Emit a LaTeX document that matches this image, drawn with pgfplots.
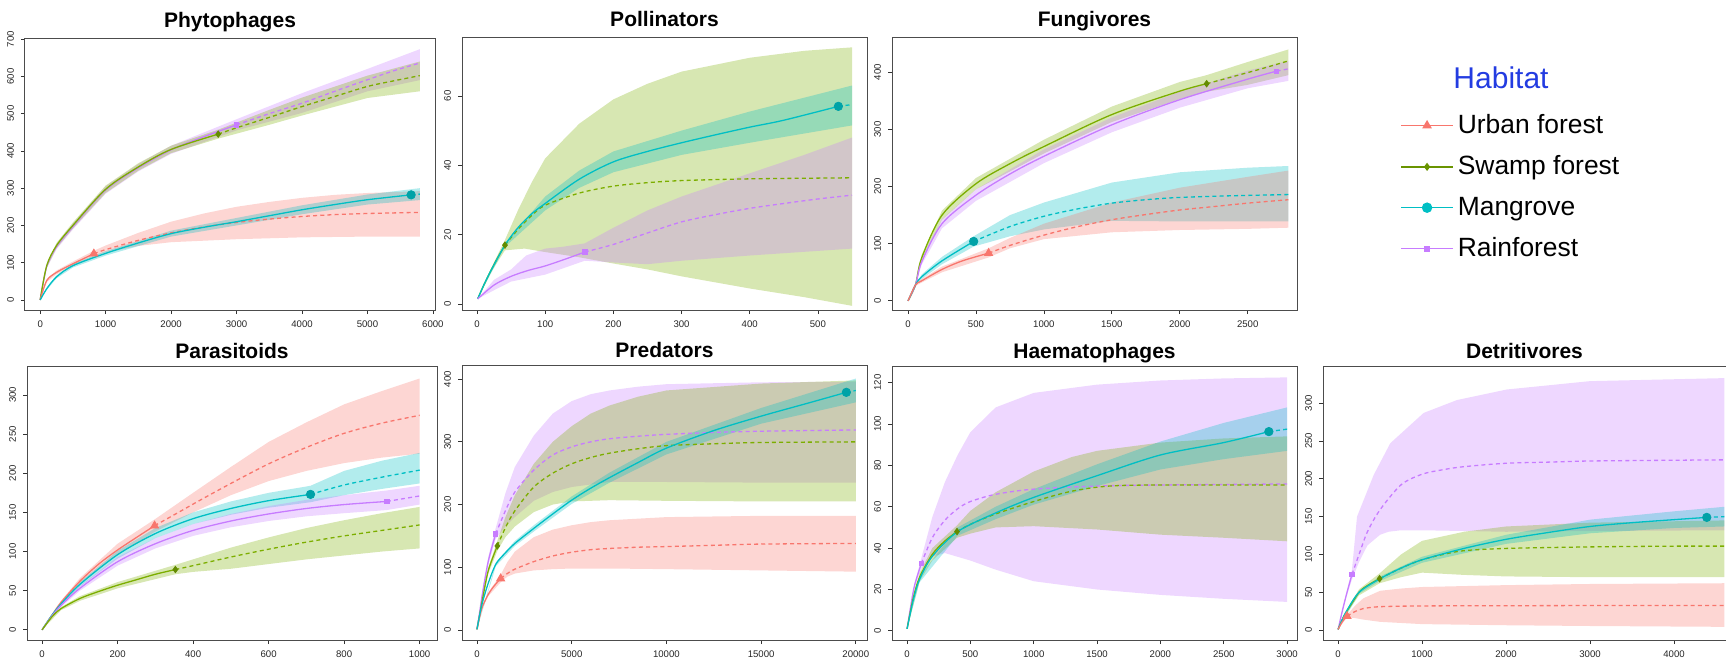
\documentclass[border=0pt]{standalone}
\usepackage{pgfplots}
\pgfplotsset{compat=1.18}
\usepackage{fontspec}
\setmainfont{Liberation Sans}
\definecolor{cU}{HTML}{F8766D}
\definecolor{cS}{HTML}{7CAE00}
\definecolor{cM}{HTML}{00BFC4}
\definecolor{cR}{HTML}{C77CFF}
\definecolor{hab}{RGB}{35,60,225}
\pgfplotsset{
 band/.style={draw=none, fill=#1, fill opacity=0.3, forget plot},
 sol/.style={draw=#1, line width=0.65pt, smooth, forget plot, no markers},
 ext/.style={draw=#1, line width=0.65pt, smooth, dash pattern=on 2pt off 1.6pt, forget plot, no markers},
 mkU/.style={only marks, mark=triangle*, mark size=2.3pt, color=cU, forget plot},
 mkS/.style={only marks, mark=diamond*, mark size=1.6pt, color=cS!80!black, forget plot},
 mkM/.style={only marks, mark=*, mark size=2.1pt, color=cM!85!black, forget plot},
 mkR/.style={only marks, mark=square*, mark size=1.1pt, color=cR, forget plot},
 panel/.style={
  scale only axis, anchor=south west,
  xtick pos=bottom, ytick pos=left, tick align=outside,
  major tick length=2pt,
  tick style={gray!40!black, line width=0.4pt},
  axis line style={gray!60!black, line width=0.5pt},
  ticklabel style={font=\fontsize{4.8}{6}\selectfont, text=gray!30!black},
  yticklabel style={rotate=90, anchor=south},
  scaled ticks=false,
  /pgf/number format/1000 sep={},
  /pgf/number format/assume math mode=true,
  every axis title/.style={at={(0.5,1)}, anchor=base, yshift=5.5pt, font=\bfseries\fontsize{10.5}{12}\selectfont},
 },
 low/.style={every axis title/.append style={yshift=-1.5pt}},
}
\begin{document}
\begin{tikzpicture}
\path[use as bounding box] (0,0) rectangle (863pt,330pt);

% ---------------- Phytophages
\begin{axis}[panel, at={(12.5pt,175pt)}, width=205pt, height=136pt,
 xmin=-232, xmax=6032, ymin=-27, ymax=703,
 xtick={0,1000,...,6000}, ytick={0,100,...,700}, title=Phytophages]
\addplot[band=cR] coordinates {(0,0)(100,95)(250,150)(500,205)(1000,305)(1500,365)(2000,414)(3000,485)(4000,555)(5000,620)(5800,673)
 (5800,590)(5000,560)(4000,502)(3000,455)(2000,392)(1500,345)(1000,285)(500,189)(250,136)(100,85)(0,0)};
\addplot[band=cS] coordinates {(0,0)(100,97)(250,153)(500,208)(1000,307)(1500,367)(2000,414)(2720,457)(3500,510)(4000,543)(5000,602)(5800,640)
 (5800,560)(5000,542)(4000,495)(3500,470)(2720,433)(2000,394)(1500,347)(1000,287)(500,192)(250,139)(100,87)(0,0)};
\addplot[band=cU] coordinates {(0,0)(100,56)(250,79)(500,103)(820,132)(1000,146)(1500,180)(2000,210)(2500,232)(3000,250)(3500,263)(4000,274)(4500,282)(5000,287)(5800,292)
 (5800,170)(5000,170)(4000,168)(3000,163)(2000,155)(1500,145)(1000,127)(820,117)(500,91)(250,69)(100,48)(0,0)};
\addplot[band=cM] coordinates {(0,0)(100,33)(250,66)(500,97)(1000,131)(2000,186)(3000,220)(4000,254)(5000,283)(5800,300)
 (5800,268)(5000,256)(4000,230)(3000,200)(2000,170)(1000,119)(500,87)(250,58)(100,27)(0,0)};
\addplot[sol=cR] coordinates {(0,0)(100,90)(250,143)(500,197)(1000,295)(1500,355)(2000,403)(2500,438)(3000,470)};
\addplot[ext=cR] coordinates {(3000,470)(3500,500)(4000,528)(4500,560)(5000,591)(5400,615)(5800,636)};
\addplot[sol=cS] coordinates {(0,0)(100,92)(250,146)(500,200)(1000,297)(1500,357)(2000,404)(2720,445)};
\addplot[ext=cS] coordinates {(2720,445)(3000,462)(3500,490)(4000,519)(4500,546)(5000,573)(5400,588)(5800,602)};
\addplot[sol=cU] coordinates {(0,0)(100,52)(250,74)(500,97)(820,124)};
\addplot[ext=cU] coordinates {(820,124)(1000,135)(1500,160)(2000,180)(2500,196)(3000,208)(3500,217)(4000,224)(4500,229)(5000,232)(5800,235)};
\addplot[sol=cM] coordinates {(0,0)(100,30)(250,62)(500,92)(1000,125)(1500,153)(2000,178)(2500,195)(3000,210)(3500,226)(4000,242)(4500,256)(5000,269)(5667,282)};
\addplot[ext=cM] coordinates {(5667,282)(5800,284)};
\addplot[mkR] coordinates {(3000,470)};
\addplot[mkS] coordinates {(2720,445)};
\addplot[mkU] coordinates {(820,124)};
\addplot[mkM] coordinates {(5667,282)};
\end{axis}

% ---------------- Pollinators
\begin{axis}[panel, at={(231pt,175pt)}, width=202.5pt, height=136pt,
 xmin=-22, xmax=572, ymin=-1.7, ymax=76.7,
 xtick={0,100,...,500}, ytick={0,20,40,60}, title=Pollinators]
\addplot[band=cS] coordinates {(1,1.5)(20,10)(41,18.5)(60,27)(80,35)(100,42)(150,52)(200,59)(250,63.5)(300,67)(400,71)(480,73)(550,74)
 (550,-0.5)(480,2)(400,4.5)(300,8)(250,10)(200,11.7)(150,13.5)(100,15)(70,16)(41,15.5)(20,9)(1,1.5)};
\addplot[band=cM] coordinates {(1,1.5)(41,17.5)(100,31)(150,38.5)(200,44)(300,50)(400,55.5)(550,63)
 (550,51.5)(400,46.5)(300,43)(200,38)(150,33.5)(100,27)(41,16.5)(1,1.5)};
\addplot[band=cR] coordinates {(1,1.5)(25,7)(50,10)(72,14)(100,16)(125,16.5)(158,17.5)(200,22)(250,27)(300,31)(400,37.7)(480,43)(550,48)
 (550,16)(400,14)(300,12.5)(250,11.5)(200,12)(158,12.5)(100,8.5)(50,6.5)(25,4)(1,1.5)};
\addplot[sol=cS] coordinates {(1,1.5)(10,5.5)(20,9.5)(30,13.3)(41,17)};
\addplot[ext=cS] coordinates {(41,17)(60,21.5)(80,25.5)(100,28.5)(150,32)(200,34)(250,35)(300,35.6)(400,36.1)(550,36.4)};
\addplot[sol=cM] coordinates {(1,1.5)(10,5.5)(20,9.5)(41,17)(60,22)(80,26)(100,29)(150,36)(200,41)(250,44)(300,46.5)(350,48.8)(400,51)(450,53)(530,57)};
\addplot[ext=cM] coordinates {(530,57)(550,57.5)};
\addplot[sol=cR] coordinates {(1,1.5)(25,5.5)(50,8)(75,9.7)(100,11)(130,13)(158,15)};
\addplot[ext=cR] coordinates {(158,15)(200,17.2)(250,20.5)(300,23.7)(350,25.8)(400,27.6)(450,29)(500,30.3)(550,31.4)};
\addplot[mkS] coordinates {(41,17)};
\addplot[mkM] coordinates {(530,57)};
\addplot[mkR] coordinates {(158,15)};
\end{axis}

% ---------------- Fungivores (with legend)
\begin{axis}[panel, at={(446pt,175pt)}, width=202.5pt, height=136pt,
 xmin=-118, xmax=2863, ymin=-16, ymax=460,
 xtick={0,500,...,2500}, ytick={0,100,...,400}, title=Fungivores,
 legend cell align=left,
 legend image code/.code={\draw[mark repeat=2,mark phase=2,#1] plot coordinates {(0pt,0pt)(13pt,0pt)(26pt,0pt)};},
 legend style={at={(1.254,0.735)}, anchor=north west, draw=none, fill=none,
   font=\fontsize{13.2}{15}\selectfont, row sep=5.6pt, inner sep=0pt,
   nodes={inner sep=2pt}}]
\addlegendimage{cU, line width=0.8pt, mark=triangle*, mark size=2pt}
\addlegendimage{cS!85!black, line width=0.8pt, mark=diamond*, mark size=1.4pt}
\addlegendimage{cM, line width=0.8pt, mark=*, mark size=2.2pt}
\addlegendimage{cR, line width=0.8pt, mark=square*, mark size=1.1pt}
\legend{Urban forest, Swamp forest, Mangrove, Rainforest}
\addplot[band=cS] coordinates {(0,0)(55,30)(100,80)(250,158)(500,215)(1000,282)(1500,340)(2000,383)(2198,395)(2500,418)(2800,440)
 (2800,395)(2500,378)(2198,366)(2000,353)(1500,313)(1000,258)(500,195)(250,142)(100,70)(55,26)(0,0)};
\addplot[band=cR] coordinates {(0,0)(55,30)(100,73)(250,143)(500,195)(1000,265)(1500,321)(2000,366)(2500,403)(2800,420)
 (2800,385)(2500,372)(2000,338)(1500,295)(1000,241)(500,175)(250,127)(100,63)(55,26)(0,0)};
\addplot[band=cM] coordinates {(0,0)(55,30)(100,46)(250,77)(483,113)(750,150)(1000,172)(1500,207)(2000,225)(2500,233)(2800,236)
 (2800,139)(2500,139)(2000,139)(1500,140)(1000,125)(750,113)(483,95)(250,64)(100,38)(55,26)(0,0)};
\addplot[band=cU] coordinates {(0,0)(55,30)(100,38)(250,60)(593,92)(750,110)(1000,135)(1500,172)(2000,198)(2500,217)(2800,228)
 (2800,128)(2500,126)(2000,124)(1500,120)(1000,108)(750,92)(593,76)(250,50)(100,32)(55,26)(0,0)};
\addplot[sol=cS] coordinates {(0,0)(55,28)(100,75)(250,150)(500,205)(750,240)(1000,270)(1500,326)(2000,367)(2198,380)};
\addplot[ext=cS] coordinates {(2198,380)(2400,393)(2600,406)(2800,420)};
\addplot[sol=cR] coordinates {(0,0)(55,28)(100,68)(250,135)(500,185)(750,222)(1000,253)(1500,308)(2000,352)(2500,388)(2713,402)};
\addplot[ext=cR] coordinates {(2713,402)(2800,406)};
\addplot[sol=cM] coordinates {(0,0)(55,28)(100,42)(250,70)(483,104)};
\addplot[ext=cM] coordinates {(483,104)(750,130)(1000,148)(1250,161)(1500,171)(1750,177)(2000,181)(2400,184)(2800,186)};
\addplot[sol=cU] coordinates {(0,0)(55,28)(100,35)(250,55)(400,70)(593,83.5)};
\addplot[ext=cU] coordinates {(593,83.5)(750,97)(1000,115)(1250,130)(1500,142)(1750,151)(2000,159)(2250,165)(2500,171)(2800,177)};
\addplot[mkS] coordinates {(2198,380)};
\addplot[mkR] coordinates {(2713,402)};
\addplot[mkM] coordinates {(483,104)};
\addplot[mkU] coordinates {(593,83.5)};
\end{axis}
\node[text=hab, font=\fontsize{15}{17}\selectfont] at (750.5pt,291pt) {Habitat};

% ---------------- Parasitoids
\begin{axis}[panel, low, at={(13.5pt,10pt)}, width=205pt, height=137pt,
 xmin=-40, xmax=1046, ymin=-13, ymax=337,
 xtick={0,200,...,1000}, ytick={0,50,...,300}, title=Parasitoids]
\addplot[band=cU] coordinates {(0,0)(50,37)(100,66)(200,110)(298,141)(400,175)(500,208)(600,240)(700,265)(800,288)(900,305)(1000,321)
 (1000,225)(900,220)(800,213)(700,203)(600,190)(500,172)(400,150)(298,125)(200,96)(100,58)(50,33)(0,0)};
\addplot[band=cM] coordinates {(0,0)(50,35)(100,61)(200,101)(300,130)(400,150)(500,164)(600,175)(711,184)(800,203)(900,216)(1000,226)
 (1000,187)(900,180)(800,172)(711,163)(600,156)(500,147)(400,135)(300,117)(200,91)(100,55)(50,31)(0,0)};
\addplot[band=cR] coordinates {(0,0)(50,33)(100,56)(200,93)(300,117)(400,135)(500,148)(600,158)(700,166)(800,172)(913,178)(1000,184)
 (1000,160)(913,153)(800,149)(700,145)(600,139)(500,131)(400,120)(300,104)(200,82)(100,50)(50,29)(0,0)};
\addplot[band=cS] coordinates {(0,0)(50,29)(100,43)(200,61)(353,83)(400,90)(500,105)(600,118)(700,130)(800,140)(900,149)(1000,157)
 (1000,104)(900,100)(800,95)(700,90)(600,84)(500,78)(400,74)(353,71)(200,53)(100,37)(50,25)(0,0)};
\addplot[sol=cU] coordinates {(0,0)(25,18)(50,35)(100,62)(150,84)(200,102)(250,118)(298,133)};
\addplot[ext=cU] coordinates {(298,133)(350,147)(420,166)(500,187)(600,212)(700,233)(800,251)(900,264)(1000,274)};
\addplot[sol=cM] coordinates {(0,0)(25,18)(50,33)(100,58)(200,96)(300,123)(400,142)(500,155)(600,165)(711,173)};
\addplot[ext=cM] coordinates {(711,173)(800,185)(900,195)(1000,204)};
\addplot[sol=cR] coordinates {(0,0)(25,17)(50,31)(100,53)(200,87)(300,110)(400,127)(500,139)(600,148)(700,155)(800,160)(913,164)};
\addplot[ext=cR] coordinates {(913,164)(1000,171)};
\addplot[sol=cS] coordinates {(0,0)(25,16)(50,27)(100,40)(150,49)(200,57)(250,64)(300,71)(353,77)};
\addplot[ext=cS] coordinates {(353,77)(400,82)(500,93)(600,103)(700,112)(800,120)(900,127)(1000,134)};
\addplot[mkU] coordinates {(298,133)};
\addplot[mkM] coordinates {(711,173)};
\addplot[mkR] coordinates {(913,164)};
\addplot[mkS] coordinates {(353,77)};
\end{axis}

% ---------------- Predators
\begin{axis}[panel, low, at={(231pt,10pt)}, width=202.5pt, height=137pt,
 xmin=-790, xmax=20590, ymin=-16, ymax=421,
 xtick={0,5000,...,20000}, ytick={0,100,...,400}, title=Predators]
\addplot[band=cR] coordinates {(0,1)(300,64)(600,117)(986,162)(1500,218)(2000,260)(3000,310)(4000,345)(5000,365)(6000,376)(7000,382)(8500,388)(10000,392)(15000,395)(20000,396)
 (20000,235)(15000,235)(10000,236)(7000,236)(5000,228)(4000,220)(3000,206)(2000,180)(1500,165)(986,145)(600,104)(300,56)(0,1)};
\addplot[band=cS] coordinates {(0,1)(300,53)(600,100)(1074,142)(1500,180)(2000,215)(3000,265)(4000,300)(5000,325)(6000,345)(7000,358)(8500,372)(10000,382)(15000,393)(20000,398)
 (20000,205)(15000,205)(10000,206)(7000,207)(5000,205)(4000,200)(3000,188)(2000,165)(1500,148)(1074,126)(600,90)(300,47)(0,1)};
\addplot[band=cU] coordinates {(0,1)(300,40)(600,60)(1250,88)(1600,108)(2000,125)(3000,148)(4000,160)(5000,167)(6000,172)(7000,175)(10000,180)(15000,182)(20000,182)
 (20000,93)(15000,95)(10000,97)(7000,98)(5000,98)(4000,97)(3000,95)(2000,90)(1600,85)(1250,76)(600,54)(300,36)(0,1)};
\addplot[band=cM] coordinates {(0,1)(1000,108)(2000,142)(3000,167)(5000,213)(7000,251)(10000,300)(15000,354)(20000,401)
 (20000,363)(15000,329)(10000,280)(7000,235)(5000,201)(3000,157)(2000,134)(1000,102)(0,1)};
\addplot[sol=cR] coordinates {(0,1)(150,30)(300,60)(600,110)(986,153)};
\addplot[ext=cR] coordinates {(986,153)(1500,190)(2000,220)(3000,255)(4000,279)(5000,292)(6000,300)(7000,305)(8500,309)(10000,312)(12500,315)(15000,317)(20000,319)};
\addplot[sol=cS] coordinates {(0,1)(150,25)(300,50)(600,95)(1074,134)};
\addplot[ext=cS] coordinates {(1074,134)(1500,163)(2000,190)(3000,228)(4000,250)(5000,265)(6000,275)(7000,282)(8500,289)(10000,294)(12500,297)(15000,299)(20000,300)};
\addplot[sol=cU] coordinates {(0,1)(150,22)(300,38)(600,57)(900,70)(1250,82)};
\addplot[ext=cU] coordinates {(1250,82)(1600,90)(2000,97)(3000,109)(4000,118)(5000,124)(6000,128)(7000,130)(8500,132)(10000,133)(12500,135)(15000,137)(20000,138)};
\addplot[sol=cM] coordinates {(0,1)(150,25)(300,45)(600,75)(1000,105)(1500,123)(2000,138)(3000,162)(4000,185)(5000,207)(6000,226)(7000,243)(8500,267)(10000,290)(12500,318)(15000,341)(17500,362)(19500,379)};
\addplot[ext=cM] coordinates {(19500,379)(20000,382)};
\addplot[mkR] coordinates {(986,153)};
\addplot[mkS] coordinates {(1074,134)};
\addplot[mkU] coordinates {(1250,82)};
\addplot[mkM] coordinates {(19500,379)};
\end{axis}

% ---------------- Haematophages
\begin{axis}[panel, low, at={(446pt,10pt)}, width=202.5pt, height=137pt,
 xmin=-118, xmax=3078, ymin=-4.4, ymax=128,
 xtick={0,500,...,3000}, ytick={0,20,...,120}, title=Haematophages]
\addplot[band=cR] coordinates {(1,1)(60,23)(113,35)(200,55)(300,72)(400,85)(500,96)(700,108)(1000,115)(1500,119)(2000,121)(2500,122)(3000,122.5)
 (3000,14)(2500,15.5)(2000,17.4)(1500,20)(1000,24)(700,29.6)(500,34)(300,37.6)(200,36)(113,30)(60,21)(1,1)};
\addplot[band=cS] coordinates {(1,1)(100,28)(200,40)(395,51)(500,58)(700,67)(1000,77)(1300,84)(1500,87)(2000,91)(2500,93)(3000,94)
 (3000,43.3)(2500,45)(2000,46.5)(1500,49)(1000,50.6)(700,50)(500,47)(395,45)(200,34)(100,24)(1,1)};
\addplot[band=cM] coordinates {(1,1)(100,26.5)(400,50)(700,60)(1000,68.5)(1500,80.5)(2000,91.5)(2500,100.5)(3000,108)
 (3000,87)(2500,83)(2000,78)(1500,70)(1000,61)(700,54)(400,46)(100,23.5)(1,1)};
\addplot[sol=cR] coordinates {(1,1)(30,12)(60,22)(113,32.5)};
\addplot[ext=cR] coordinates {(113,32.5)(200,45)(300,53.5)(400,59)(500,62.5)(700,66)(1000,68.5)(1500,70)(2000,70.5)(3000,71)};
\addplot[sol=cS] coordinates {(1,1)(50,16)(100,26)(200,37)(300,43.5)(395,48)};
\addplot[ext=cS] coordinates {(395,48)(500,51.5)(700,56.5)(1000,62.5)(1300,67.5)(1600,70)(2000,70.5)(3000,70.5)};
\addplot[sol=cM] coordinates {(1,1)(50,15)(100,25)(200,36)(400,48)(700,57)(1000,64.5)(1500,75)(2000,85)(2500,91)(2856,96.3)};
\addplot[ext=cM] coordinates {(2856,96.3)(3000,97.5)};
\addplot[mkR] coordinates {(113,32.5)};
\addplot[mkS] coordinates {(395,48)};
\addplot[mkM] coordinates {(2856,96.3)};
\end{axis}

% ---------------- Detritivores
\begin{axis}[panel, low, at={(661.5pt,10pt)}, width=201.5pt, height=137pt,
 xmin=-179, xmax=4619, ymin=-13, ymax=349,
 xtick={0,1000,...,4000}, ytick={0,50,...,300}, title=Detritivores]
\addplot[band=cR] coordinates {(1,1)(100,50)(166,80)(226,150)(424,205)(622,247)(1019,287)(1415,304)(2010,318)(3000,329)(4600,333)
 (4600,132)(3000,131)(2000,130)(1000,132)(750,132)(600,130)(500,126)(350,112)(250,90)(166,67)(100,44)(1,1)};
\addplot[band=cS] coordinates {(1,1)(100,26)(250,54)(495,75)(750,100)(1000,118)(1500,130)(2000,137)(3000,142)(4600,145)
 (4600,70)(3000,70)(2000,71)(1500,73)(1000,76)(750,70)(495,62)(250,46)(100,22)(1,1)};
\addplot[band=cU] coordinates {(1,1)(107,20)(200,32)(300,42)(500,52)(750,55)(1000,57)(2000,59.5)(3000,61)(4600,62)
 (4600,4.4)(3000,5.5)(2000,6.5)(1000,8)(500,11)(300,14)(200,16)(107,17)(1,1)};
\addplot[band=cM] coordinates {(1,1)(250,52)(500,71)(1000,97)(2000,126)(3000,146)(4000,157)(4600,163)
 (4600,137)(4000,135)(3000,128)(2000,114)(1000,89)(500,65)(250,48)(1,1)};
\addplot[sol=cR] coordinates {(1,1)(50,25)(100,47)(166,73.7)};
\addplot[ext=cR] coordinates {(166,73.7)(250,100)(350,130)(500,159)(750,192)(1000,206)(1250,212)(1500,216)(2000,220.5)(2500,222)(3000,223.5)(4000,224.5)(4600,225)};
\addplot[sol=cS] coordinates {(1,1)(50,14)(100,24)(250,50)(350,59)(495,68)};
\addplot[ext=cS] coordinates {(495,68)(750,82)(1000,93)(1250,100)(1500,105)(2000,108)(3000,110)(4000,111)(4600,111)};
\addplot[sol=cM] coordinates {(1,1)(50,14)(100,25)(250,50)(500,68)(750,82)(1000,93)(1500,108)(2000,120)(2500,129)(3000,137)(3500,142)(4000,146)(4390,149)};
\addplot[ext=cM] coordinates {(4390,149)(4600,150)};
\addplot[sol=cU] coordinates {(1,1)(50,11)(107,18.5)};
\addplot[ext=cU] coordinates {(107,18.5)(200,24.5)(300,28.5)(500,31)(1000,32)(2000,32.3)(3000,32.5)(4600,32.6)};
\addplot[mkR] coordinates {(166,73.7)};
\addplot[mkS] coordinates {(495,68)};
\addplot[mkM] coordinates {(4390,149)};
\addplot[mkU] coordinates {(107,18.5)};
\end{axis}
\end{tikzpicture}
\end{document}
